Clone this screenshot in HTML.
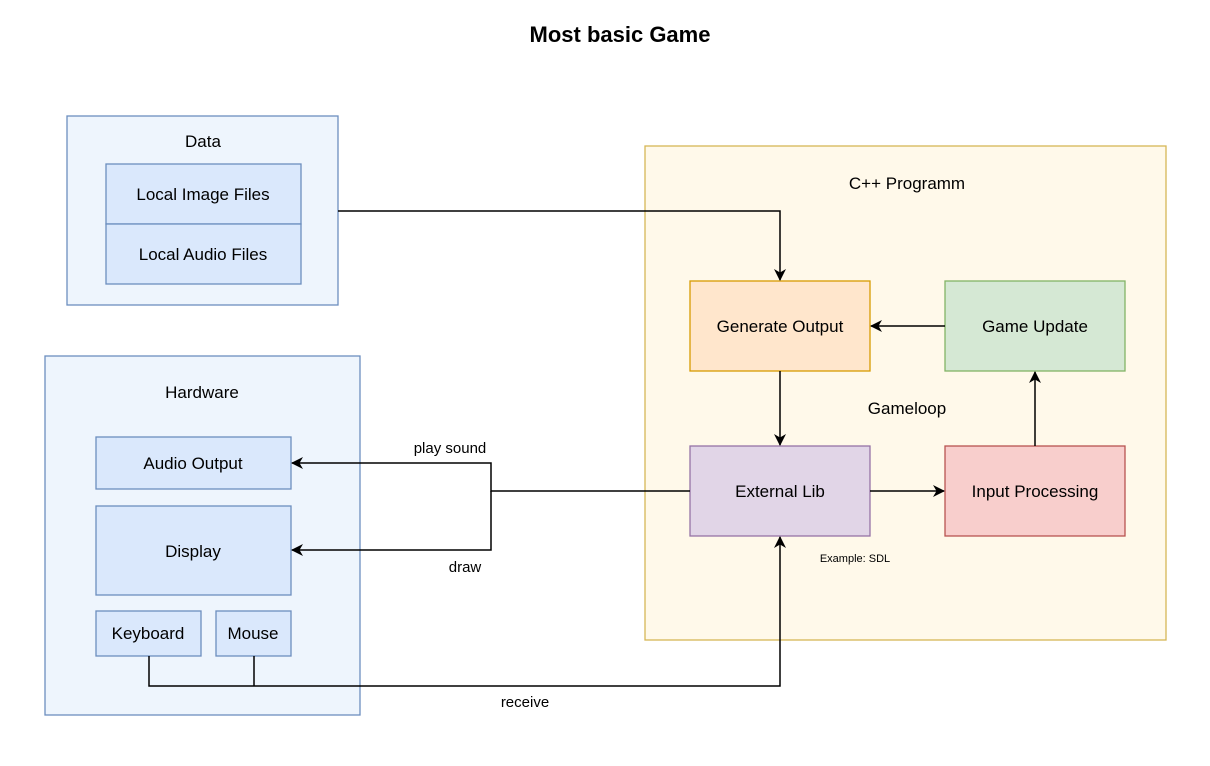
<!DOCTYPE html>
<html><head><style>body{margin:0;background:#fff}svg{display:block;font-family:"Liberation Sans",Arial,sans-serif}</style></head>
<body>
<svg width="1210" height="766" viewBox="0 0 1210 766" xmlns="http://www.w3.org/2000/svg">
<defs><marker id="a" viewBox="0 0 12 12" markerWidth="12" markerHeight="12" refX="11" refY="6" orient="auto" markerUnits="userSpaceOnUse"><path d="M0,0 L12,6 L0,12 L3.5,6 z" fill="#000"/></marker></defs>
<rect width="1210" height="766" fill="#fff"/>
<text x="620" y="42" font-size="22" font-weight="bold" text-anchor="middle">Most basic Game</text>
<g stroke="#6c8ebf" stroke-width="1.3">
<rect x="67" y="116" width="271" height="189" fill="#eef5fd"/>
<rect x="106" y="164" width="195" height="60" fill="#dae8fc"/>
<rect x="106" y="224" width="195" height="60" fill="#dae8fc"/>
<rect x="45" y="356" width="315" height="359" fill="#eef5fd"/>
<rect x="96" y="437" width="195" height="52" fill="#dae8fc"/>
<rect x="96" y="506" width="195" height="89" fill="#dae8fc"/>
<rect x="96" y="611" width="105" height="45" fill="#dae8fc"/>
<rect x="216" y="611" width="75" height="45" fill="#dae8fc"/>
</g>
<rect x="645" y="146" width="521" height="494" fill="#fff9ea" stroke="#d6b656" stroke-width="1.3"/>
<rect x="690" y="281" width="180" height="90" fill="#ffe6cc" stroke="#d79b00" stroke-width="1.3"/>
<rect x="945" y="281" width="180" height="90" fill="#d5e8d4" stroke="#82b366" stroke-width="1.3"/>
<rect x="690" y="446" width="180" height="90" fill="#e1d5e7" stroke="#9673a6" stroke-width="1.3"/>
<rect x="945" y="446" width="180" height="90" fill="#f8cecc" stroke="#b85450" stroke-width="1.3"/>
<g fill="none" stroke="#000" stroke-width="1.5">
<path d="M338,211 H780 V280" marker-end="url(#a)"/>
<path d="M945,326 H871" marker-end="url(#a)"/>
<path d="M780,371 V445" marker-end="url(#a)"/>
<path d="M870,491 H944" marker-end="url(#a)"/>
<path d="M1035,446 V372" marker-end="url(#a)"/>
<path d="M690,491 H491 V463 H292" marker-end="url(#a)"/>
<path d="M491,491 V550 H292" marker-end="url(#a)"/>
<path d="M149,656 V686 H780 V537" marker-end="url(#a)"/>
<path d="M254,656 V686"/>
</g>
<g font-size="17" text-anchor="middle" fill="#000">
<text x="203" y="147">Data</text>
<text x="203" y="200">Local Image Files</text>
<text x="203" y="260">Local Audio Files</text>
<text x="202" y="398">Hardware</text>
<text x="193" y="469">Audio Output</text>
<text x="193" y="557">Display</text>
<text x="148" y="639">Keyboard</text>
<text x="253" y="639">Mouse</text>
<text x="907" y="189">C++ Programm</text>
<text x="780" y="332">Generate Output</text>
<text x="1035" y="332">Game Update</text>
<text x="780" y="497">External Lib</text>
<text x="1035" y="497">Input Processing</text>
<text x="907" y="414">Gameloop</text>
<text x="450" y="453" font-size="15">play sound</text>
<text x="465" y="572" font-size="15">draw</text>
<text x="525" y="707" font-size="15">receive</text>
<text x="855" y="562" font-size="11">Example: SDL</text>
</g>
</svg>
</body></html>
